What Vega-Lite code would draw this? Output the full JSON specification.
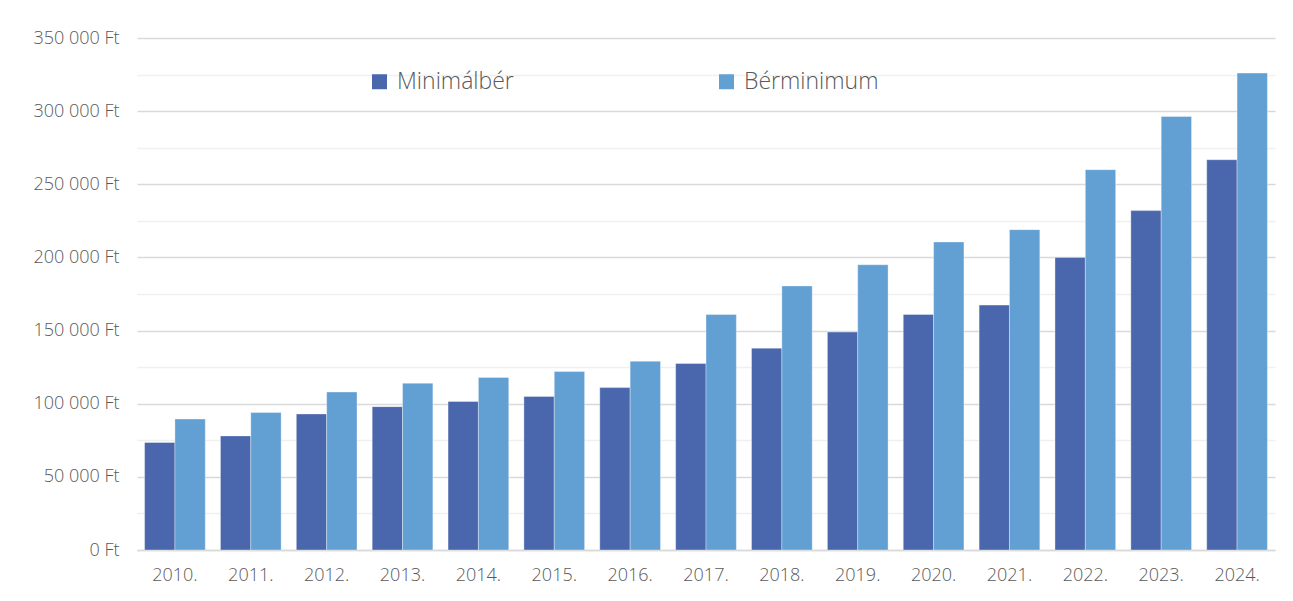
{
  "$schema": "https://vega.github.io/schema/vega-lite/v6.json",
  "width": 1138,
  "height": 512,
  "padding": {"left": 32, "top": 29, "right": 18, "bottom": 5},
  "background": "#ffffff",
  "config": {
    "view": {"stroke": null},
    "font": "Open Sans"
  },
  "data": {
    "values": [
      {"ev": "2010.", "sorozat": "Minimálbér", "ertek": 73500},
      {"ev": "2011.", "sorozat": "Minimálbér", "ertek": 78000},
      {"ev": "2012.", "sorozat": "Minimálbér", "ertek": 93000},
      {"ev": "2013.", "sorozat": "Minimálbér", "ertek": 98000},
      {"ev": "2014.", "sorozat": "Minimálbér", "ertek": 101500},
      {"ev": "2015.", "sorozat": "Minimálbér", "ertek": 105000},
      {"ev": "2016.", "sorozat": "Minimálbér", "ertek": 111000},
      {"ev": "2017.", "sorozat": "Minimálbér", "ertek": 127500},
      {"ev": "2018.", "sorozat": "Minimálbér", "ertek": 138000},
      {"ev": "2019.", "sorozat": "Minimálbér", "ertek": 149000},
      {"ev": "2020.", "sorozat": "Minimálbér", "ertek": 161000},
      {"ev": "2021.", "sorozat": "Minimálbér", "ertek": 167400},
      {"ev": "2022.", "sorozat": "Minimálbér", "ertek": 200000},
      {"ev": "2023.", "sorozat": "Minimálbér", "ertek": 232000},
      {"ev": "2024.", "sorozat": "Minimálbér", "ertek": 266800},
      {"ev": "2010.", "sorozat": "Bérminimum", "ertek": 89500},
      {"ev": "2011.", "sorozat": "Bérminimum", "ertek": 94000},
      {"ev": "2012.", "sorozat": "Bérminimum", "ertek": 108000},
      {"ev": "2013.", "sorozat": "Bérminimum", "ertek": 114000},
      {"ev": "2014.", "sorozat": "Bérminimum", "ertek": 118000},
      {"ev": "2015.", "sorozat": "Bérminimum", "ertek": 122000},
      {"ev": "2016.", "sorozat": "Bérminimum", "ertek": 129000},
      {"ev": "2017.", "sorozat": "Bérminimum", "ertek": 161000},
      {"ev": "2018.", "sorozat": "Bérminimum", "ertek": 180500},
      {"ev": "2019.", "sorozat": "Bérminimum", "ertek": 195000},
      {"ev": "2020.", "sorozat": "Bérminimum", "ertek": 210600},
      {"ev": "2021.", "sorozat": "Bérminimum", "ertek": 219000},
      {"ev": "2022.", "sorozat": "Bérminimum", "ertek": 260000},
      {"ev": "2023.", "sorozat": "Bérminimum", "ertek": 296400},
      {"ev": "2024.", "sorozat": "Bérminimum", "ertek": 326000}
    ]
  },
  "mark": {"type": "bar", "stroke": "#ffffff", "strokeOpacity": 0.35, "strokeWidth": 1},
  "encoding": {
    "x": {
      "field": "ev",
      "type": "nominal",
      "sort": null,
      "title": null,
      "scale": {"paddingInner": 0.2, "paddingOuter": 0.1},
      "axis": {
        "labelAngle": 0,
        "ticks": false,
        "domain": true,
        "domainColor": "#d9d9d9",
        "domainWidth": 1.5,
        "labelFontSize": 18,
        "labelFontWeight": 300,
        "labelColor": "#595959",
        "labelPadding": 16,
        "labelFont": "Open Sans"
      }
    },
    "xOffset": {"field": "sorozat", "type": "nominal", "sort": ["Minimálbér", "Bérminimum"]},
    "y": {
      "field": "ertek",
      "type": "quantitative",
      "title": null,
      "scale": {"domain": [0, 350000], "nice": false},
      "axis": {
        "values": [0, 25000, 50000, 75000, 100000, 125000, 150000, 175000, 200000, 225000, 250000, 275000, 300000, 325000, 350000],
        "labelExpr": "datum.value % 50000 === 0 ? replace(format(datum.value, ','), ',', ' ') + ' Ft' : ''",
        "ticks": false,
        "domain": false,
        "grid": true,
        "gridColor": {"condition": {"test": "datum.value % 50000 === 0", "value": "#d9d9d9"}, "value": "#f0f0f0"},
        "gridWidth": 1.5,
        "labelFontSize": 18,
        "labelFontWeight": 300,
        "labelColor": "#595959",
        "labelPadding": 18,
        "labelFont": "Open Sans"
      }
    },
    "color": {
      "field": "sorozat",
      "type": "nominal",
      "sort": ["Minimálbér", "Bérminimum"],
      "scale": {"domain": ["Minimálbér", "Bérminimum"], "range": ["#4a66ac", "#629fd3"]},
      "legend": {
        "title": null,
        "orient": "none",
        "legendX": 231,
        "legendY": 32,
        "direction": "horizontal",
        "symbolType": "square",
        "symbolSize": 225,
        "symbolStrokeWidth": 0,
        "labelFontSize": 23,
        "labelFontWeight": 300,
        "labelColor": "#595959",
        "labelFont": "Open Sans",
        "labelOffset": 6,
        "columnPadding": 201
      }
    }
  }
}
